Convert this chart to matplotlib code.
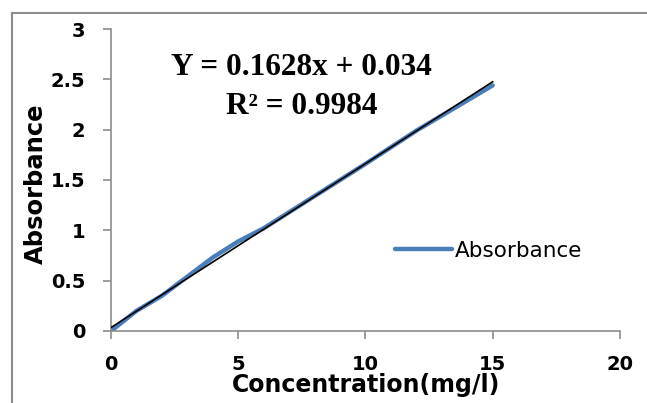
import matplotlib.pyplot as plt
from matplotlib.lines import Line2D

# calibration data
conc = [0, 1, 2, 4, 5, 6, 8, 10, 12, 15]
absorb = [0.0, 0.20, 0.35, 0.73, 0.89, 1.02, 1.34, 1.66, 1.99, 2.44]
slope = 0.1628
intercept = 0.034
r2 = 0.9984
x_ticks = [0, 5, 10, 15, 20]
y_ticks = [0, 0.5, 1, 1.5, 2, 2.5, 3]
y_tick_labels = ["0", "0.5", "1", "1.5", "2", "2.5", "3"]

sans = ["DejaVu Sans"]
serif = ["Liberation Serif", "DejaVu Serif"]
grey = "#8c8c8c"

fig = plt.figure(figsize=(6.47, 4.03), dpi=100)
ax = fig.add_axes([0.1716, 0.1787, 0.7865, 0.7493])

# outer chart frame (only left and top visible)
fig.add_artist(Line2D([12 / 647, 12 / 647], [0, 1 - 13 / 403], color=grey, lw=1.5,
                      transform=fig.transFigure))
fig.add_artist(Line2D([12 / 647, 1], [1 - 13 / 403, 1 - 13 / 403], color=grey, lw=1.5,
                      transform=fig.transFigure))

ax.plot(conc, absorb, color="#4a7ebb", lw=3.2, solid_capstyle="round",
        label="Absorbance", zorder=2)
fit_x = [conc[0], conc[-1]]
fit_y = [slope * v + intercept for v in fit_x]
ax.plot(fit_x, fit_y, color="black", lw=1.2, zorder=3)

ax.set_xlim(0, 20)
ax.set_ylim(0, 3)
ax.set_xticks(x_ticks)
ax.set_yticks(y_ticks)
ax.set_xticklabels([str(t) for t in x_ticks], fontfamily=sans, fontweight="bold", fontsize=14)
ax.set_yticklabels(y_tick_labels, fontfamily=sans, fontweight="bold", fontsize=14)
ax.tick_params(axis="both", direction="out", length=6, width=1.2, color=grey)
ax.tick_params(axis="y", pad=12.5)
ax.tick_params(axis="x", pad=11)

for side in ("top", "right"):
    ax.spines[side].set_visible(False)
for side in ("left", "bottom"):
    ax.spines[side].set_color(grey)
    ax.spines[side].set_linewidth(1.2)

ax.set_ylabel("Absorbance", fontfamily=sans, fontweight="bold", fontsize=17.5, va="center")
ax.yaxis.set_label_coords(-0.147, 0.487)
ax.set_xlabel("Concentration(mg/l)", fontfamily=sans, fontweight="bold", fontsize=17,
              va="center")
ax.xaxis.set_label_coords(0.501, -0.18)

ax.text(0.375, 0.871, f"Y = {slope}x + {intercept}", transform=ax.transAxes,
        ha="center", va="center", fontfamily=serif, fontweight="bold", fontsize=22.5)
ax.text(0.375, 0.745, f"R² = {r2}", transform=ax.transAxes,
        ha="center", va="center", fontfamily=serif, fontweight="bold", fontsize=22.5)

ax.legend(loc="center left", bbox_to_anchor=(0.519, 0.265), frameon=False,
          handlelength=2.65, handletextpad=0.15,
          prop={"family": sans, "size": 15.5})

fig.savefig("out.png", dpi=100)
